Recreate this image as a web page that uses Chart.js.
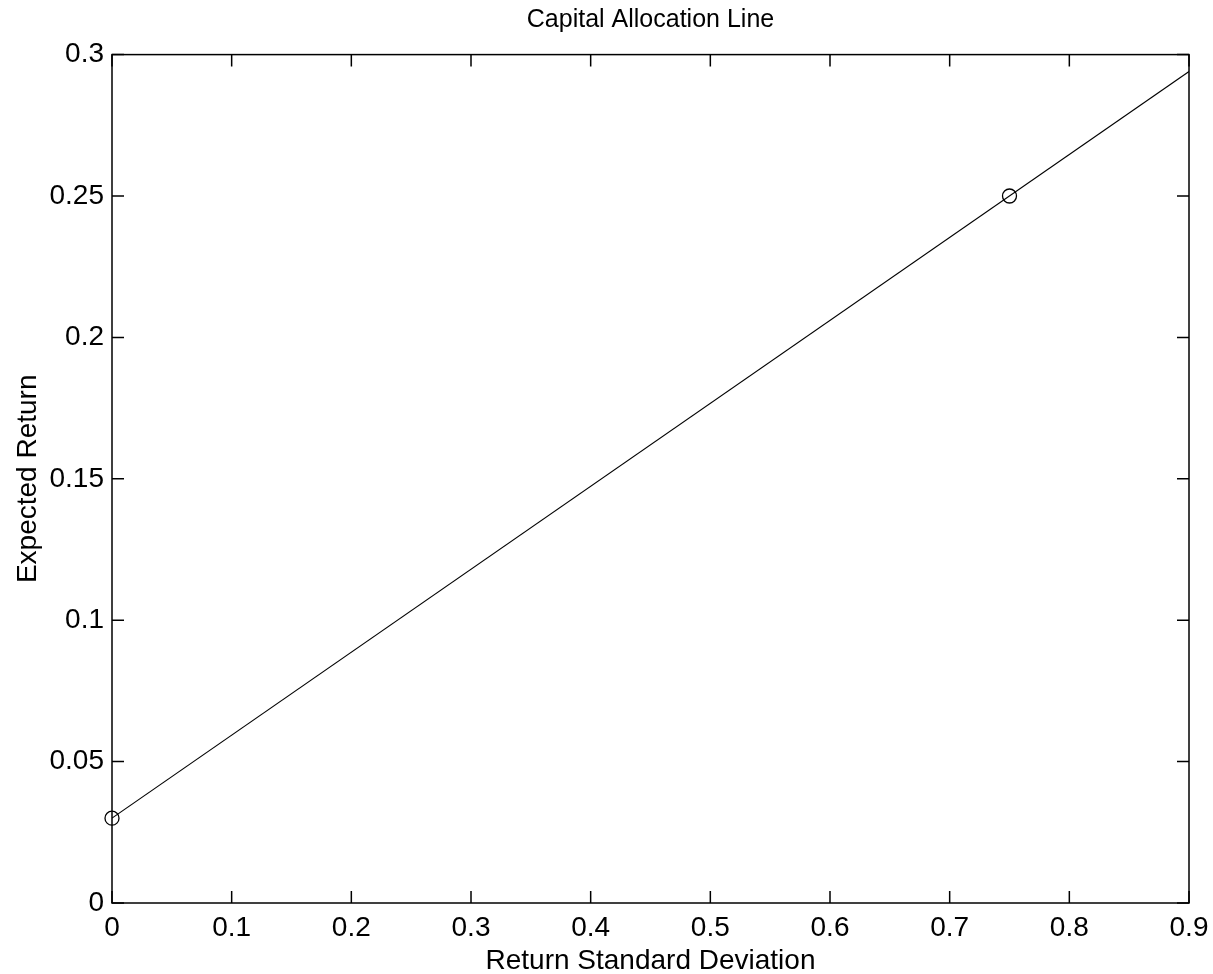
<!DOCTYPE html>
<html><head><meta charset="utf-8">
<script src="https://cdn.jsdelivr.net/npm/chart.js@4/dist/chart.umd.min.js"></script>
<style>html,body{margin:0;padding:0;background:#fff}#wrap{width:1213px;height:974px;position:relative}</style>
</head><body><div id="wrap"><canvas id="c"></canvas></div>
<script>
// Capital allocation line (risk-free asset to risky portfolio, extended)
const lineX = [0, 0.9];
const lineY = [0.03, 0.294];
// Marked portfolios: risk-free asset and risky portfolio
const pointX = [0, 0.75];
const pointY = [0.03, 0.25];
const xTicks = [0, 0.1, 0.2, 0.3, 0.4, 0.5, 0.6, 0.7, 0.8, 0.9];
const yTicks = [0, 0.05, 0.1, 0.15, 0.2, 0.25, 0.3];
const chartTitle = 'Capital Allocation Line';
const xTitle = 'Return Standard Deviation';
const yTitle = 'Expected Return';

const FONT = "'Liberation Sans', Arial, Helvetica, sans-serif";
const fmt = v => String(Number(v.toFixed(2)));

const boxPlugin = {
  id: 'boxTicks',
  afterDraw(chart) {
    const {ctx, chartArea: a, scales: {x, y}} = chart;
    const L = 12;
    ctx.save();
    ctx.strokeStyle = '#000';
    ctx.lineWidth = 1.5;
    ctx.strokeRect(a.left, a.top, a.right - a.left, a.bottom - a.top);
    ctx.beginPath();
    xTicks.forEach(v => {
      const px = x.getPixelForValue(v);
      ctx.moveTo(px, a.bottom); ctx.lineTo(px, a.bottom - L);
      ctx.moveTo(px, a.top); ctx.lineTo(px, a.top + L);
    });
    yTicks.forEach(v => {
      const py = y.getPixelForValue(v);
      ctx.moveTo(a.left, py); ctx.lineTo(a.left + L, py);
      ctx.moveTo(a.right, py); ctx.lineTo(a.right - L, py);
    });
    ctx.stroke();
    ctx.restore();
  }
};

new Chart(document.getElementById('c'), {
  type: 'scatter',
  data: {
    datasets: [
      {
        label: 'CAL',
        data: lineX.map((v, i) => ({x: v, y: lineY[i]})),
        showLine: true,
        borderColor: '#000',
        borderWidth: 1.1,
        pointRadius: 0,
        fill: false
      },
      {
        label: 'Portfolios',
        data: pointX.map((v, i) => ({x: v, y: pointY[i]})),
        showLine: false,
        pointRadius: 7,
        pointBorderColor: '#000',
        pointBackgroundColor: 'rgba(0,0,0,0)',
        pointBorderWidth: 1.3,
        clip: false
      }
    ]
  },
  options: {
    responsive: true,
    maintainAspectRatio: false,
    animation: false,
    layout: {padding: {left: 0, right: 24, top: 0, bottom: 0}},
    plugins: {
      legend: {display: false},
      tooltip: {enabled: false},
      title: {
        display: true,
        text: chartTitle,
        color: '#000',
        fullSize: false,
        font: {family: FONT, size: 25, weight: 'normal'},
        padding: {top: 5.6, bottom: 19}
      }
    },
    scales: {
      x: {
        type: 'linear', min: 0, max: 0.9,
        afterBuildTicks: s => { s.ticks = xTicks.map(v => ({value: v})); },
        afterFit: s => { s.height = 71; s.paddingRight = 0; s.paddingLeft = 0; },
        grid: {display: false, drawTicks: false},
        border: {display: false},
        ticks: {
          color: '#000', padding: 8, maxRotation: 0, autoSkip: false,
          font: {family: FONT, size: 28},
          callback: v => fmt(v)
        },
        title: {
          display: true, text: xTitle, color: '#000',
          font: {family: FONT, size: 28, lineHeight: 0.8},
          padding: {top: 0, bottom: 1.3}
        }
      },
      y: {
        type: 'linear', min: 0, max: 0.3,
        afterBuildTicks: s => { s.ticks = yTicks.map(v => ({value: v})); },
        afterFit: s => { s.width = 112; },
        grid: {display: false, drawTicks: false},
        border: {display: false},
        ticks: {
          color: '#000', padding: 8, autoSkip: false,
          font: {family: FONT, size: 28},
          callback: v => fmt(v)
        },
        title: {
          display: true, text: yTitle, color: '#000',
          font: {family: FONT, size: 28},
          padding: {top: 11, bottom: 0}
        }
      }
    }
  },
  plugins: [boxPlugin]
});
</script>
</body></html>
